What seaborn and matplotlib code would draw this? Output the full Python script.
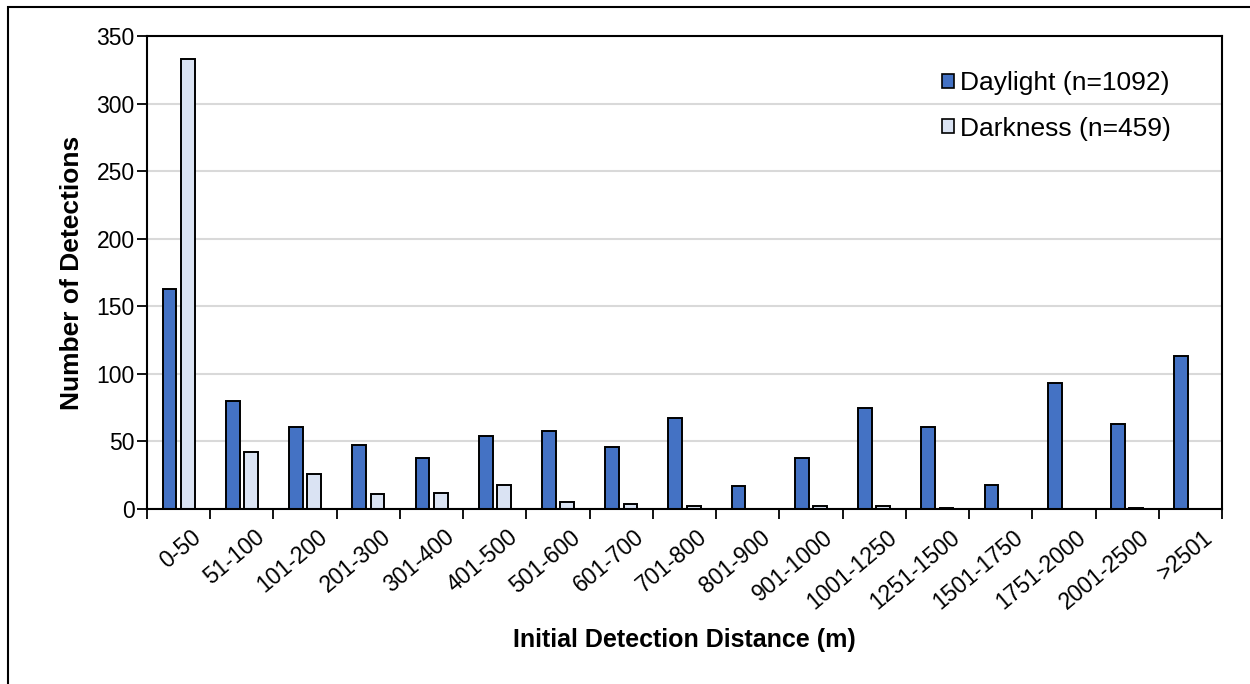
import numpy as np
import pandas as pd
import seaborn as sns
import matplotlib.pyplot as plt
import matplotlib as mpl
from matplotlib.patches import Rectangle
from matplotlib.transforms import ScaledTranslation

bins = ["0-50", "51-100", "101-200", "201-300", "301-400", "401-500", "501-600",
        "601-700", "701-800", "801-900", "901-1000", "1001-1250", "1251-1500",
        "1501-1750", "1751-2000", "2001-2500", ">2501"]
daylight = [163, 80, 61, 47, 38, 54, 58, 46, 67, 17, 38, 75, 61, 18, 93, 63, 113]
darkness = [333, 42, 26, 11, 12, 18, 5, 4, 2, 0, 2, 2, 1, 0, 0, 1, 0]
series = ["Daylight (n=1092)", "Darkness (n=459)"]
colors = ["#4472C4", "#DAE3F3"]

df = pd.DataFrame({
    "bin": bins * 2,
    "count": daylight + darkness,
    "cond": [series[0]] * len(bins) + [series[1]] * len(bins),
})

sns.set_style("white")
plt.rcParams['font.family'] = ['Liberation Sans', 'DejaVu Sans']
for k in ['text.color', 'axes.labelcolor', 'xtick.color', 'ytick.color']:
    mpl.rcParams[k] = 'black'

fig = plt.figure(figsize=(12.5, 6.84), dpi=100)
ax = fig.add_axes([147/1250, 1-509/684, (1222-147)/1250, (509-36)/684])

sns.barplot(data=df, x="bin", y="count", hue="cond", order=bins, hue_order=series,
            palette=colors, saturation=1, width=0.58, gap=0.25, edgecolor="black",
            linewidth=1.4, ax=ax, legend=True)

ax.set_ylim(0, 350)
ax.set_xlim(-0.5, len(bins) - 0.5)
ax.set_yticks(np.arange(0, 351, 50))
ax.yaxis.grid(True, color="#D9D9D9", linewidth=1.5)
ax.set_axisbelow(True)
for s in ax.spines.values():
    s.set_color("black")
    s.set_linewidth(1.5)

ax.tick_params(axis="y", which="major", direction="out", length=7, width=1.3,
               labelsize=16.5, left=True, pad=2)
ax.set_xticks(range(len(bins)))
ax.set_xticklabels(bins, rotation=40, ha="right", rotation_mode="anchor", fontsize=16.5)
ax.tick_params(axis="x", which="major", length=0, pad=12)
ax.set_xticks(np.arange(-0.5, len(bins), 1.0), minor=True)
ax.tick_params(axis="x", which="minor", direction="out", length=7, width=1.3, bottom=True)
shift = ScaledTranslation(0.12, 0, fig.dpi_scale_trans)
for lab in ax.get_xticklabels():
    lab.set_transform(lab.get_transform() + shift)

ax.set_xlabel("Initial Detection Distance (m)", fontsize=18, fontweight="bold", labelpad=10)
ax.set_ylabel("Number of Detections", fontsize=19, fontweight="bold", labelpad=9)

leg = ax.legend(loc="upper right", bbox_to_anchor=(0.952, 0.925), frameon=False, fontsize=19,
                borderpad=0, borderaxespad=0,
                handlelength=0.45, handleheight=0.45, handletextpad=0.2, labelspacing=0.8)
for h in leg.legend_handles:
    h.set_edgecolor("black")
    h.set_linewidth(1.2)

fig.patches.append(Rectangle((8/1250, -0.01), 1.0, 1 - 7/684 + 0.01, transform=fig.transFigure,
                             fill=False, edgecolor="black", linewidth=1.5))

plt.savefig("out.png", dpi=100)
